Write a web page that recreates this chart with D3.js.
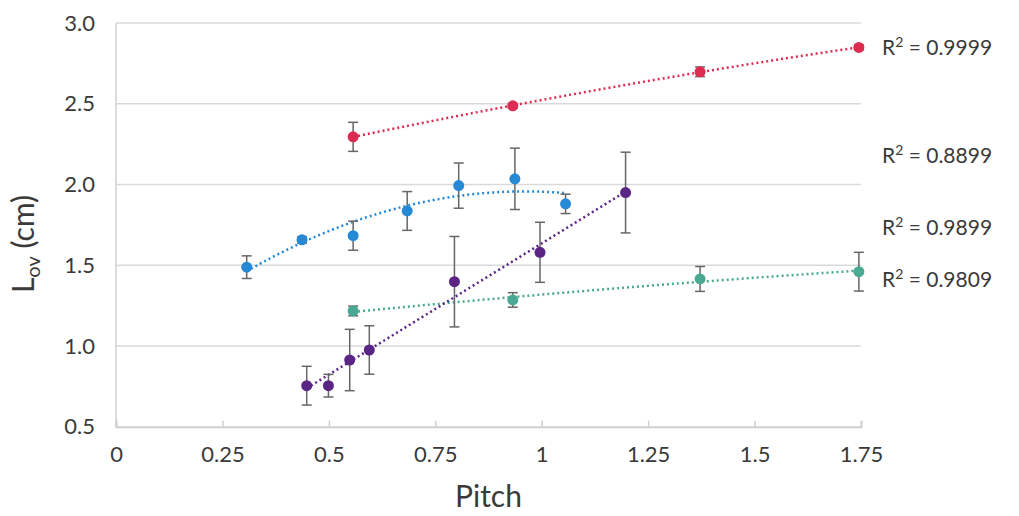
<!DOCTYPE html>
<html>
<head>
<meta charset="utf-8">
<script src="https://cdn.jsdelivr.net/npm/d3@7"></script>
<style>
  body { margin: 0; background: #ffffff; overflow: hidden; }
  text { font-family: Lato, "Open Sans", sans-serif; fill: #3a3a3a; }
</style>
</head>
<body>
<div id="chart"></div>
<script>
// values
var xTicks = [0, 0.25, 0.5, 0.75, 1, 1.25, 1.5, 1.75];
var xTickLabels = ["0", "0.25", "0.5", "0.75", "1", "1.25", "1.5", "1.75"];
var yTicks = [0.5, 1.0, 1.5, 2.0, 2.5, 3.0];

var redX   = [0.557, 0.932, 1.372, 1.745];
var redY   = [2.295, 2.487, 2.698, 2.849];
var redErr = [0.09, 0.015, 0.03, 0.015];

var blueX   = [0.307, 0.437, 0.557, 0.684, 0.805, 0.937, 1.056];
var blueY   = [1.488, 1.657, 1.683, 1.836, 1.993, 2.035, 1.880];
var blueErr = [0.07, 0.02, 0.09, 0.12, 0.14, 0.19, 0.06];

var purpleX   = [0.448, 0.499, 0.549, 0.595, 0.795, 0.996, 1.197];
var purpleY   = [0.754, 0.754, 0.913, 0.975, 1.398, 1.580, 1.950];
var purpleErr = [0.12, 0.07, 0.19, 0.15, 0.28, 0.186, 0.25];

var tealX   = [0.557, 0.932, 1.372, 1.745];
var tealY   = [1.217, 1.285, 1.415, 1.460];
var tealErr = [0.03, 0.045, 0.077, 0.12];

var r2Labels = ["0.9999", "0.8899", "0.9899", "0.9809"];
var r2Y      = [2.85, 2.18, 1.735, 1.41];

var width = 1019, height = 516;
var mLeft = 116, mRight = 861, mTop = 23, mBottom = 426.7;

var svg = d3.select("#chart").append("svg")
    .attr("width", width)
    .attr("height", height);

var x = d3.scaleLinear().domain([0, 1.75]).range([mLeft, mRight]);
var y = d3.scaleLinear().domain([0.5, 3]).range([mBottom, mTop]);

// horizontal gridlines
svg.append("g").selectAll("line")
    .data(yTicks.slice(1))
    .enter().append("line")
    .attr("x1", mLeft).attr("x2", mRight)
    .attr("y1", function (d) { return y(d); })
    .attr("y2", function (d) { return y(d); })
    .style("stroke", "#d9d9d9")
    .style("stroke-width", 1.5);

// left border + bottom axis
svg.append("line")
    .attr("x1", mLeft).attr("x2", mLeft).attr("y1", mTop).attr("y2", mBottom)
    .style("stroke", "#d0d0d0").style("stroke-width", 1.5);

var xAxis = d3.axisBottom(x)
    .tickValues(xTicks)
    .tickSize(-6)
    .tickFormat(function (d, i) { return xTickLabels[i]; });

var gx = svg.append("g")
    .attr("transform", "translate(0," + mBottom + ")")
    .call(xAxis);
gx.select(".domain").style("stroke", "#d0d0d0").style("stroke-width", 2);
gx.selectAll(".tick line").style("stroke", "#d0d0d0").style("stroke-width", 1.5);
gx.selectAll(".tick text")
    .attr("y", 20)
    .attr("font-size", "22px")
    .attr("font-family", "Lato")
    .style("fill", "#3a3a3a");

var yAxis = d3.axisLeft(y)
    .tickValues(yTicks)
    .tickSize(0)
    .tickFormat(d3.format(".1f"));

var gy = svg.append("g")
    .attr("transform", "translate(" + mLeft + ",0)")
    .call(yAxis);
gy.select(".domain").remove();
gy.selectAll(".tick text")
    .attr("x", -21)
    .attr("font-size", "22px")
    .attr("font-family", "Lato")
    .style("fill", "#3a3a3a");

// axis titles
svg.append("text")
    .attr("x", (mLeft + mRight) / 2)
    .attr("y", 507)
    .attr("text-anchor", "middle")
    .attr("font-size", "30px")
    .text("Pitch");

var yl = svg.append("text")
    .attr("transform", "translate(34,244) rotate(-90)")
    .attr("text-anchor", "middle")
    .attr("font-size", "30px");
yl.append("tspan").text("L");
yl.append("tspan").attr("font-size", "20px").attr("dy", 6).text("ov");
yl.append("tspan").attr("dy", -6).text(" (cm)");

// least squares fits
function polyFit2(xs, ys) {
    var n = xs.length, s = [0, 0, 0, 0, 0], t = [0, 0, 0];
    for (var i = 0; i < n; i++) {
        var p = 1;
        for (var k = 0; k < 5; k++) { s[k] += p; if (k < 3) t[k] += p * ys[i]; p *= xs[i]; }
    }
    var A = [[s[0], s[1], s[2], t[0]], [s[1], s[2], s[3], t[1]], [s[2], s[3], s[4], t[2]]];
    for (var c = 0; c < 3; c++) {
        for (var r = c + 1; r < 3; r++) {
            var f = A[r][c] / A[c][c];
            for (var j = c; j < 4; j++) A[r][j] -= f * A[c][j];
        }
    }
    var b = [0, 0, 0];
    for (var r2 = 2; r2 >= 0; r2--) {
        var v = A[r2][3];
        for (var j2 = r2 + 1; j2 < 3; j2++) v -= A[r2][j2] * b[j2];
        b[r2] = v / A[r2][r2];
    }
    return function (xv) { return b[0] + b[1] * xv + b[2] * xv * xv; };
}

function linFit(xs, ys) {
    var mx = d3.mean(xs), my = d3.mean(ys), num = 0, den = 0;
    for (var i = 0; i < xs.length; i++) {
        num += (xs[i] - mx) * (ys[i] - my);
        den += (xs[i] - mx) * (xs[i] - mx);
    }
    var m = num / den;
    return function (xv) { return my + m * (xv - mx); };
}

var series = [
    {xs: redX, ys: redY, err: redErr, color: "#dd2c52", fit: polyFit2(redX, redY)},
    {xs: blueX, ys: blueY, err: blueErr, color: "#2589d6", fit: polyFit2(blueX, blueY)},
    {xs: tealX, ys: tealY, err: tealErr, color: "#4aa893", fit: polyFit2(tealX, tealY)},
    {xs: purpleX, ys: purpleY, err: purpleErr, color: "#5a2585", fit: linFit(purpleX, purpleY)}
];

var line = d3.line()
    .x(function (d) { return x(d[0]); })
    .y(function (d) { return y(d[1]); });

series.forEach(function (s) {
    var x0 = d3.min(s.xs), x1 = d3.max(s.xs);
    var pts = d3.range(0, 61).map(function (i) {
        var xv = x0 + (x1 - x0) * i / 60;
        return [xv, s.fit(xv)];
    });
    svg.append("path")
        .datum(pts)
        .attr("d", line)
        .style("fill", "none")
        .style("stroke", s.color)
        .style("stroke-width", 2.5)
        .style("stroke-dasharray", "2,3");
});

series.forEach(function (s) {
    var g = svg.append("g");
    var data = s.xs.map(function (xv, i) { return {x: xv, y: s.ys[i], e: s.err[i]}; });

    // error bars first, points on top
    var eb = g.selectAll("g.err").data(data).enter().append("g").attr("class", "err");
    eb.append("line")
        .attr("x1", function (d) { return x(d.x); })
        .attr("x2", function (d) { return x(d.x); })
        .attr("y1", function (d) { return y(d.y - d.e); })
        .attr("y2", function (d) { return y(d.y + d.e); });
    eb.append("line")
        .attr("x1", function (d) { return x(d.x) - 5; })
        .attr("x2", function (d) { return x(d.x) + 5; })
        .attr("y1", function (d) { return y(d.y + d.e); })
        .attr("y2", function (d) { return y(d.y + d.e); });
    eb.append("line")
        .attr("x1", function (d) { return x(d.x) - 5; })
        .attr("x2", function (d) { return x(d.x) + 5; })
        .attr("y1", function (d) { return y(d.y - d.e); })
        .attr("y2", function (d) { return y(d.y - d.e); });
    eb.selectAll("line")
        .style("stroke", "#666666")
        .style("stroke-width", 1.5);

    g.selectAll("circle")
        .data(data)
        .enter().append("circle")
        .attr("cx", function (d) { return x(d.x); })
        .attr("cy", function (d) { return y(d.y); })
        .attr("r", 5.5)
        .style("fill", s.color);
});

// R² labels
var lab = svg.append("g").selectAll("text")
    .data(r2Labels)
    .enter().append("text")
    .attr("x", 882)
    .attr("y", function (d, i) { return y(r2Y[i]); })
    .attr("dy", "0.35em")
    .attr("font-size", "21px");
lab.append("tspan").text("R");
lab.append("tspan").attr("font-size", "14px").attr("dy", -8).text("2");
lab.append("tspan").attr("dy", 8).text(" = ");
lab.append("tspan").text(function (d) { return d; });
</script>
</body>
</html>
